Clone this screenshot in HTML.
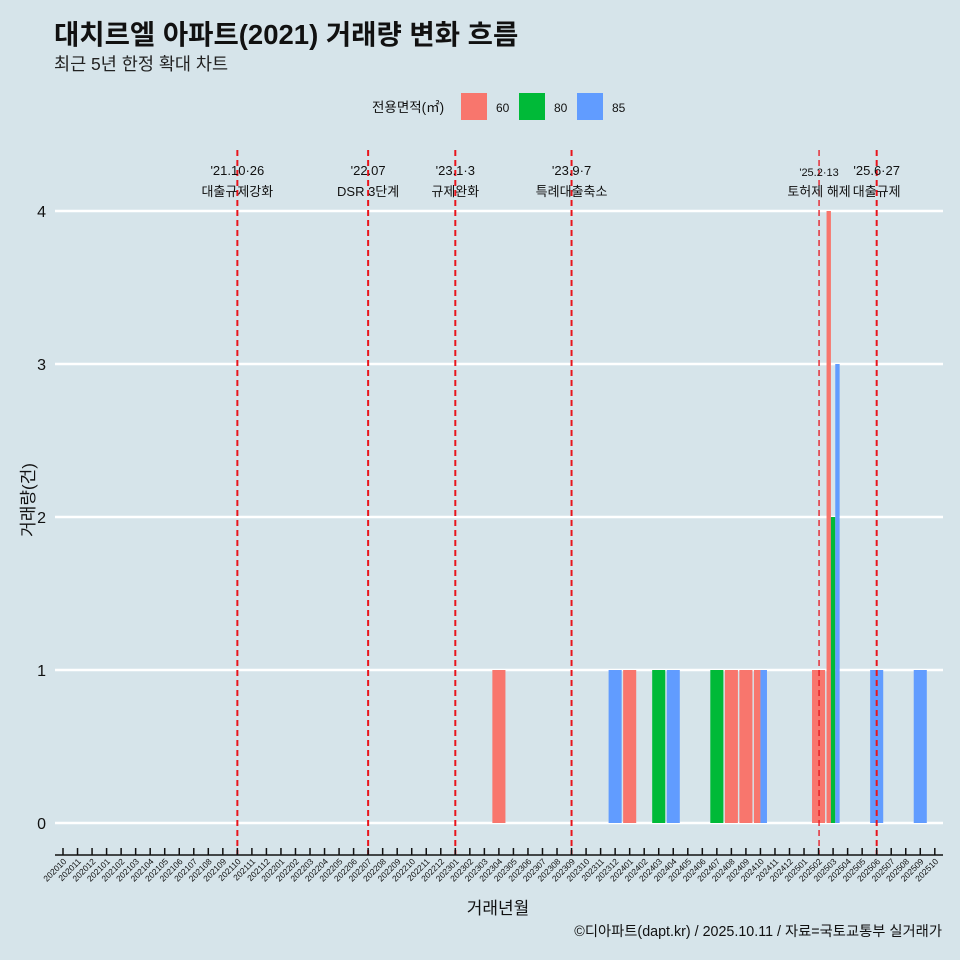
<!DOCTYPE html>
<html><head><meta charset="utf-8"><style>
body{margin:0;background:#d6e4ea;}
svg{display:block;font-family:"Liberation Sans","Noto Sans CJK KR",sans-serif;}
</style></head><body>
<svg id="c" width="960" height="960" viewBox="0 0 960 960">
<rect width="960" height="960" fill="#d6e4ea"/>
<text x="54" y="44" font-size="27.5" font-weight="bold" fill="#111">대치르엘 아파트(2021) 거래량 변화 흐름</text>
<text x="54" y="70" font-size="17.5" fill="#222">최근 5년 한정 확대 차트</text>
<g>
<text x="372" y="112" font-size="13.5" fill="#111">전용면적(㎡)</text>
<rect x="461" y="93" width="26" height="27" fill="#f8766d"/>
<text x="496" y="112" font-size="12" fill="#111">60</text>
<rect x="519" y="93" width="26" height="27" fill="#00ba38"/>
<text x="554" y="112" font-size="12" fill="#111">80</text>
<rect x="577" y="93" width="26" height="27" fill="#619cff"/>
<text x="612" y="112" font-size="12" fill="#111">85</text>
</g>
<g id="grid"></g><g id="bars"></g><g id="events"></g><g id="axes"></g>
<text x="498" y="914" font-size="17" text-anchor="middle" fill="#111">거래년월</text>
<text x="0" y="0" font-size="17" text-anchor="middle" fill="#111" transform="translate(34,500) rotate(-90)">거래량(건)</text>
<text x="942" y="936" font-size="14.3" text-anchor="end" fill="#111">©디아파트(dapt.kr) / 2025.10.11 / 자료=국토교통부 실거래가</text>
</svg>
<script>
const months=[];for(let y=2020,m=10;!(y===2025&&m===11);){months.push(''+y+(m<10?'0':'')+m);m++;if(m>12){m=1;y++;}}
const barMonths=['202304','202312','202401','202403','202404','202407','202408','202409','202410','202410','202502','202503','202503','202503','202506','202509'];
const barGroups=['60','85','60','80','85','80','60','60','60','85','60','60','80','85','85','85'];
const barValues=[1,1,1,1,1,1,1,1,1,1,1,4,2,3,1,1];
const yTicks=[0,1,2,3,4];
const evMonths=['202110','202207','202301','202309','202502','202506'];
const evLine1=["'21.10·26","'22.07","'23.1·3","'23.9·7","'25.2·13","'25.6·27"];
const evLine2=['대출규제강화','DSR 3단계','규제완화','특례대출축소','토허제 해제','대출규제'];
const colors={'60':'#f8766d','80':'#00ba38','85':'#619cff'};
const ns='http://www.w3.org/2000/svg';
const X0=63,DX=14.53,Y0=823,DY=153;
const xs=m=>X0+months.indexOf(m)*DX;
const ys=v=>Y0-v*DY;
function mk(t,a,p){const e=document.createElementNS(ns,t);for(const k in a)e.setAttribute(k,a[k]);document.getElementById(p).appendChild(e);return e;}
yTicks.forEach(v=>{
 const l=mk('line',{x1:55,x2:943,y1:ys(v),y2:ys(v),stroke:'#fff','stroke-width':2.5},'grid');
 
 
 const t=mk('text',{x:46,y:ys(v)+6,'font-size':16,'text-anchor':'end',fill:'#111'},'grid');t.textContent=v;
 
 
});
const W=DX*0.9;
barMonths.forEach((m,i)=>{
 const same=barMonths.map((mm,j)=>mm===m?j:-1).filter(j=>j>=0);
 const n=same.length,k=same.indexOf(i),w=W/n;
 const x=xs(m)-W/2+k*w;
 const r=mk('rect',{x:x,y:ys(barValues[i]),width:Math.max(w,1),height:ys(0)-ys(barValues[i]),fill:colors[barGroups[i]]},'bars');
 
 
});
evMonths.forEach((m,i)=>{
 const x=xs(m)+(m==='202502'?0.5:0);
 const l=mk('line',{x1:x,x2:x,y1:150,y2:855,stroke:'#e8141c','stroke-width':m==='202502'?1.3:2,'stroke-dasharray':'6,4'},'events');
 
 
 const fs=m==='202502'?11:13;
 const t1=mk('text',{x:x,y:m==='202502'?176:175,'font-size':fs,'text-anchor':'middle',fill:'#111'},'events');t1.textContent=evLine1[i];
 
 
 const t2=mk('text',{x:x,y:196,'font-size':13,'text-anchor':'middle',fill:'#111'},'events');t2.textContent=evLine2[i];
 
 
});
const ax=mk('line',{x1:55,x2:943,y1:855,y2:855,stroke:'#111','stroke-width':1.5},'axes');


months.forEach(m=>{
 const x=xs(m);
 mk('line',{x1:x,x2:x,y1:848,y2:855,stroke:'#111','stroke-width':1.5},'axes');
 const t=mk('text',{x:0,y:0,'font-size':8.5,'text-anchor':'end',fill:'#111',transform:`translate(${x+4},${862}) rotate(-45)`},'axes');t.textContent=m;
 
 
});
</script>
</body></html>
